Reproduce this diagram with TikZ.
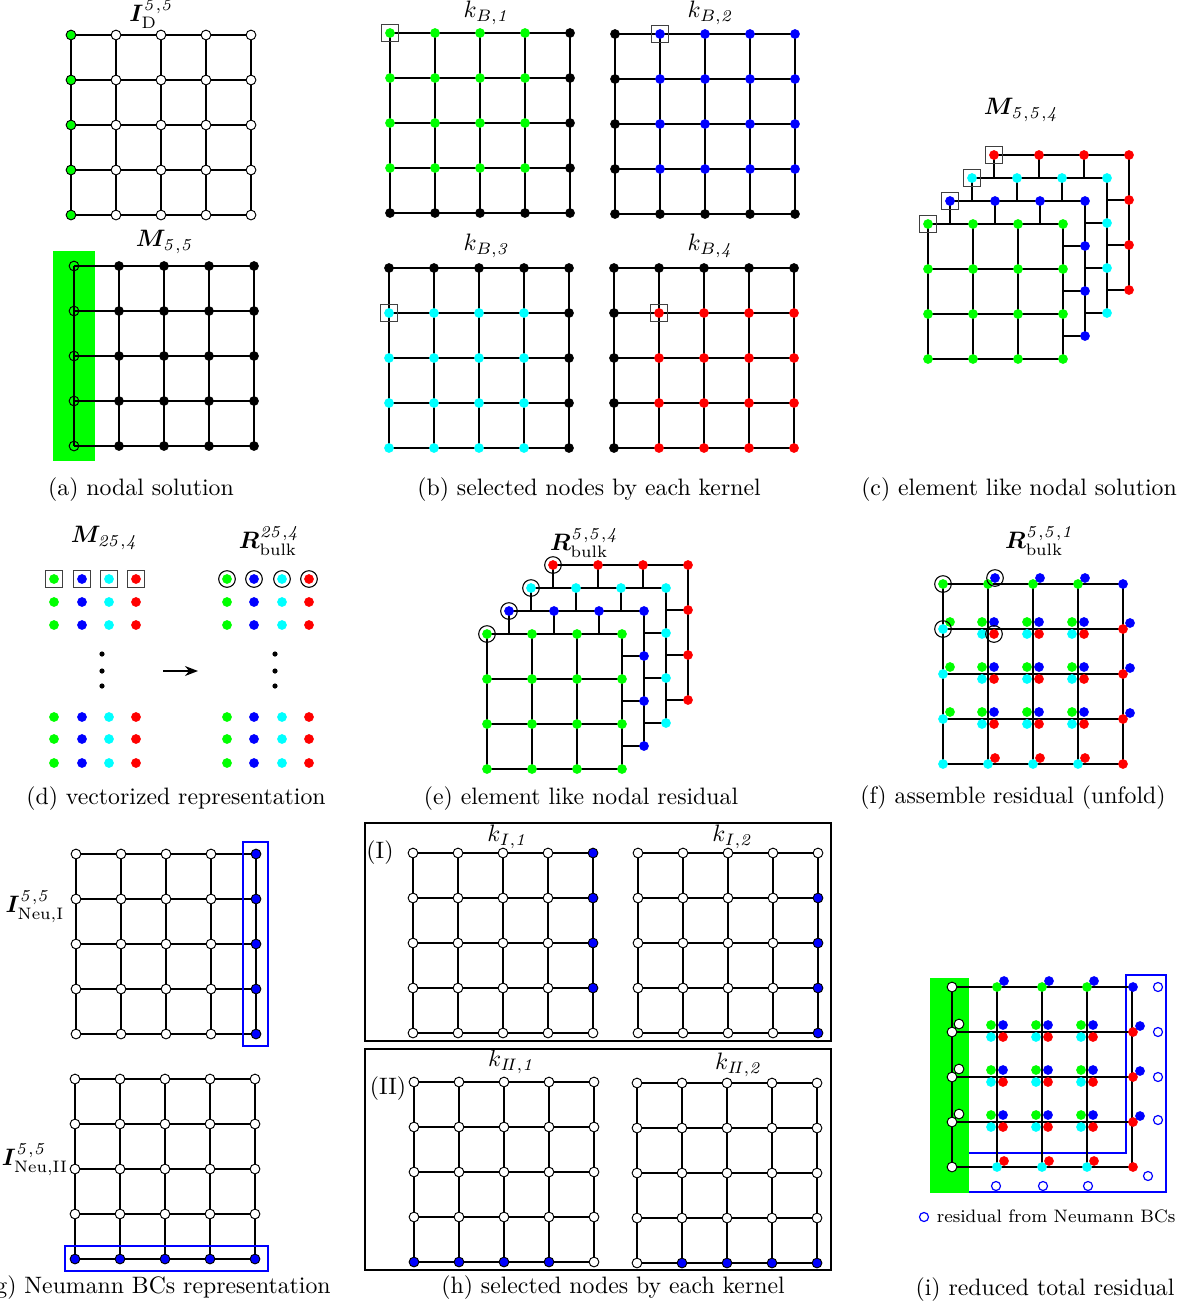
\documentclass[tikz,border=0pt]{standalone}
\usepackage{amsmath,bm}
\usetikzlibrary{arrows.meta}
\definecolor{gC}{RGB}{0,255,0}
\definecolor{bC}{RGB}{0,0,255}
\definecolor{cC}{RGB}{0,255,255}
\definecolor{rC}{RGB}{255,0,0}
\tikzset{
  gridline/.style={line width=0.8pt, draw=black},
  dot/.style={circle, inner sep=0pt, minimum size=4.1pt},
  odot/.style={dot, draw=black, line width=0.4pt},
  gdot/.style={dot, fill=gC},
  bdot/.style={dot, fill=bC},
  cdot/.style={dot, fill=cC},
  rdot/.style={dot, fill=rC},
  kdot/.style={dot, fill=black},
  wodot/.style={odot, fill=white},
  godot/.style={odot, fill=gC},
  bodot/.style={odot, fill=bC},
  edot/.style={odot},
  nbc/.style={circle, inner sep=0pt, minimum size=3.8pt, draw=bC, fill=white, line width=0.5pt},
  selbox/.style={draw=black!75, line width=0.45pt, minimum size=7.2pt, inner sep=0pt},
  selcirc/.style={draw=black, line width=0.45pt, circle, minimum size=7pt, inner sep=0pt},
  captext/.style={font=\normalsize},
  bcbox/.style={draw=bC, line width=0.85pt},
  panelbox/.style={draw=black, line width=0.9pt}
}
% grid of lines: x0, y0, cells in x, cells in y
\newcommand{\mygrid}[4]{%
  \foreach \k in {0,...,#3} \draw[gridline] ({#1+45*\k},{#2}) -- ({#1+45*\k},{#2+45*#4});
  \foreach \k in {0,...,#4} \draw[gridline] ({#1},{#2+45*\k}) -- ({#1+45*#3},{#2+45*\k});
}
% 5x5 kernel grid: x0,y0, selected style, other style, imin,imax,jmin,jmax
\newcommand{\kgrid}[8]{%
  \mygrid{#1}{#2}{4}{4}
  \foreach \i in {0,...,4} \foreach \j in {0,...,4} {%
    \def\st{#4}%
    \ifnum\i<#5 \else\ifnum\i>#6 \else\ifnum\j<#7 \else\ifnum\j>#8 \else \def\st{#3}\fi\fi\fi\fi
    \node[\st] at ({#1+45*\i},{#2+45*\j}) {};
  }
}
% one element-layer: x0,y0,style
\newcommand{\elayer}[3]{%
  \fill[white] ({#1},{#2}) rectangle ({#1+135},{#2+135});
  \mygrid{#1}{#2}{3}{3}
  \foreach \i in {0,...,3} \foreach \j in {0,...,3} \node[#3] at ({#1+45*\i},{#2+45*\j}) {};
}
\begin{document}
\begin{tikzpicture}[x=0.421pt,y=-0.421pt]
\useasboundingbox (0,0) rectangle (1192,1308);

% ================= (a) =================
\node (tID) at (152,14) {$\bm{I}^{\mathit{5,5}}_{\mathrm{D}}$};
\mygrid{71}{35}{4}{4}
\foreach \j in {0,...,4} \node[godot] (ad-0-\j) at (71,{35+45*\j}) {};
\foreach \i in {1,...,4} \foreach \j in {0,...,4} \node[wodot] (ad-\i-\j) at ({71+45*\i},{35+45*\j}) {};

\node (tM55) at (165,242) {$\bm{M}_{\mathit{5,5}}$};
\fill[gC] (53,251) rectangle (95,461);
\mygrid{74}{266}{4}{4}
\foreach \j in {0,...,4} \node[edot] (am-0-\j) at (74,{266+45*\j}) {};
\foreach \i in {1,...,4} \foreach \j in {0,...,4} \node[kdot] (am-\i-\j) at ({74+45*\i},{266+45*\j}) {};
\node[captext] (capa) at (141,490) {(a) nodal solution};

% ================= (b) =================
\node (tkB1) at (487,13) {$k_{B,\mathit{1}}$};
\node (tkB2) at (711,13) {$k_{B,\mathit{2}}$};
\node (tkB3) at (487,246) {$k_{B,\mathit{3}}$};
\node (tkB4) at (711,246) {$k_{B,\mathit{4}}$};
\kgrid{390}{33}{gdot}{kdot}{0}{3}{0}{3}
\kgrid{615}{34}{bdot}{kdot}{1}{4}{0}{3}
\kgrid{389}{268}{cdot}{kdot}{0}{3}{1}{4}
\kgrid{614}{268}{rdot}{kdot}{1}{4}{1}{4}
\node[selbox] (sb1) at (390,33) {};
\node[selbox] (sb2) at (660,34) {};
\node[selbox] (sb3) at (389,313) {};
\node[selbox] (sb4) at (659,313) {};
\node[captext] (capb) at (589,490) {(b) selected nodes by each kernel};

% ================= (c) =================
\node (tM554) at (1022,110) {$\bm{M}_{\mathit{5,5,4}}$};
\elayer{994}{155}{rdot}
\elayer{972}{178}{cdot}
\elayer{950}{201}{bdot}
\elayer{928}{224}{gdot}
\node[selbox] (sc1) at (928,224) {};
\node[selbox] (sc2) at (950,201) {};
\node[selbox] (sc3) at (972,178) {};
\node[selbox] (sc4) at (994,155) {};
\node[captext] (capc) at (1019,490) {(c) element like nodal solution};

% ================= (d) =================
\node (tM254) at (105,538) {$\bm{M}_{\mathit{25,4}}$};
\node (tR254) at (270,541) {$\bm{R}^{\mathit{25,4}}_{\mathrm{bulk}}$};
\foreach \y in {579,602,625,717,739,763} {
  \node[gdot] at (54,\y) {}; \node[bdot] at (82,\y) {}; \node[cdot] at (109,\y) {}; \node[rdot] at (136,\y) {};
  \node[gdot] at (227,\y) {}; \node[bdot] at (254,\y) {}; \node[cdot] at (282,\y) {}; \node[rdot] at (309,\y) {};
}
\foreach \x in {54,82,109,136} \node[selbox] at (\x,579) {};
\foreach \x in {227,254,282,309} \node[selcirc] at (\x,579) {};
\foreach \y in {654,671,686} {
  \fill[black] (102,\y) circle (2.6);
  \fill[black] (275,\y) circle (2.6);
}
\coordinate (arA) at (163,671);
\coordinate (arB) at (198,671);
\draw[line width=0.7pt,-{Stealth[length=5.5pt,width=4.2pt]}] (arA) -- (arB);
\node[captext] (capd) at (176,799) {(d) vectorized representation};

% ================= (e) =================
\node (tR554) at (585,543) {$\bm{R}^{\mathit{5,5,4}}_{\mathrm{bulk}}$};
\elayer{553}{565}{rdot}
\elayer{531}{588}{cdot}
\elayer{509}{611}{bdot}
\elayer{487}{634}{gdot}
\node[selcirc] at (487,634) {};
\node[selcirc] at (509,611) {};
\node[selcirc] at (531,588) {};
\node[selcirc] at (553,565) {};
\node[captext] (cape) at (581,799) {(e) element like nodal residual};

% ================= (f) =================
\node (tR551) at (1040,541) {$\bm{R}^{\mathit{5,5,1}}_{\mathrm{bulk}}$};
\mygrid{943}{584}{4}{4}
\node[gdot] at (943,584) {};
\node[bdot] at (1123,584) {};
\node[cdot] at (943,764) {};
\node[rdot] at (1123,764) {};
\foreach \i in {1,2,3} {
  \node[gdot] at ({943+45*\i},584) {};
  \node[bdot] at ({943+45*\i+7},578) {};
  \node[cdot] at ({943+45*\i},764) {};
  \node[rdot] at ({943+45*\i+7},758) {};
}
\foreach \j in {1,2,3} {
  \node[cdot] at (943,{584+45*\j}) {};
  \node[gdot] at (950,{584+45*\j-7}) {};
  \node[rdot] at (1123,{584+45*\j}) {};
  \node[bdot] at (1130,{584+45*\j-6}) {};
}
\foreach \i in {1,2,3} \foreach \j in {1,2,3} {
  \node[gdot] at ({943+45*\i-6},{584+45*\j-7}) {};
  \node[bdot] at ({943+45*\i+6},{584+45*\j-7}) {};
  \node[cdot] at ({943+45*\i-6},{584+45*\j+5}) {};
  \node[rdot] at ({943+45*\i+6},{584+45*\j+5}) {};
}
\node[selcirc] at (943,584) {};
\node[selcirc] at (995,578) {};
\node[selcirc] at (943,629) {};
\node[selcirc] at (994,634) {};
\node[captext] (capf) at (1013,798) {(f) assemble residual (unfold)};

% ================= (g) =================
\node (tNeuI) at (35,907) {$\bm{I}^{\mathit{5,5}}_{\mathrm{Neu,I}}$};
\kgrid{76}{854}{bodot}{wodot}{4}{4}{0}{4}
\draw[bcbox] (243,842) rectangle (268,1046);
\node (tNeuII) at (35,1160) {$\bm{I}^{\mathit{5,5}}_{\mathrm{Neu,II}}$};
\kgrid{75}{1079}{bodot}{wodot}{0}{4}{4}{4}
\draw[bcbox] (65,1246) rectangle (268,1271);
\node[captext,anchor=east] (capg) at (339,1288) {(g) Neumann BCs representation};

% ================= (h) =================
\draw[panelbox] (365,823) rectangle (831,1041);
\draw[panelbox] (365,1049) rectangle (831,1270);
\node (lI) at (380,853) {(I)};
\node (lII) at (388,1089) {(II)};
\node (tkI1) at (508,837) {$k_{I,\mathit{1}}$};
\node (tkI2) at (733,837) {$k_{I,\mathit{2}}$};
\node (tkII1) at (512,1062) {$k_{I\!I,\mathit{1}}$};
\node (tkII2) at (739,1065) {$k_{I\!I,\mathit{2}}$};
\kgrid{413}{853}{bodot}{wodot}{4}{4}{0}{3}
\kgrid{638}{853}{bodot}{wodot}{4}{4}{1}{4}
\kgrid{414}{1082}{bodot}{wodot}{0}{3}{4}{4}
\kgrid{637}{1083}{bodot}{wodot}{1}{4}{4}{4}
\node[captext] (caph) at (613,1288) {(h) selected nodes by each kernel};

% ================= (i) =================
\draw[bcbox] (962,1153) -- (1126,1153) -- (1126,975) -- (1166,975) -- (1166,1192) -- (962,1192);
\fill[gC] (930,978) rectangle (969,1193);
\mygrid{952}{987}{4}{4}
\foreach \j in {1,2,3} \node[wodot] at (959,{987+45*\j-8}) {};
\foreach \j in {0,...,4} \node[wodot] (iw-\j) at (952,{987+45*\j}) {};
\node[bdot] at (1133,987) {};
\node[rdot] at (1133,1167) {};
\foreach \i in {1,2,3} {
  \node[gdot] at ({952+45*\i},987) {};
  \node[bdot] at ({952+45*\i+7},981) {};
  \node[cdot] at ({952+45*\i},1167) {};
  \node[rdot] at ({952+45*\i+7},1161) {};
}
\foreach \j in {1,2,3} {
  \node[rdot] at (1133,{987+45*\j}) {};
  \node[bdot] at (1140,{987+45*\j-6}) {};
}
\foreach \i in {1,2,3} \foreach \j in {1,2,3} {
  \node[gdot] at ({952+45*\i-6},{987+45*\j-7}) {};
  \node[bdot] at ({952+45*\i+6},{987+45*\j-7}) {};
  \node[cdot] at ({952+45*\i-6},{987+45*\j+5}) {};
  \node[rdot] at ({952+45*\i+6},{987+45*\j+5}) {};
}
\foreach \y in {987,1032,1077,1120} \node[nbc] at (1158,\y) {};
\node[nbc] at (1148,1176) {};
\foreach \x in {996,1043,1088} \node[nbc] at (\x,1186) {};
\node[nbc] (legc) at (924,1217) {};
\node[anchor=west,font=\fontsize{7.6pt}{9pt}\selectfont,inner sep=1pt] (legt) at (934,1216) {residual from Neumann BCs};
\node[captext] (capi) at (1045,1290) {(i) reduced total residual};
\end{tikzpicture}
\end{document}
